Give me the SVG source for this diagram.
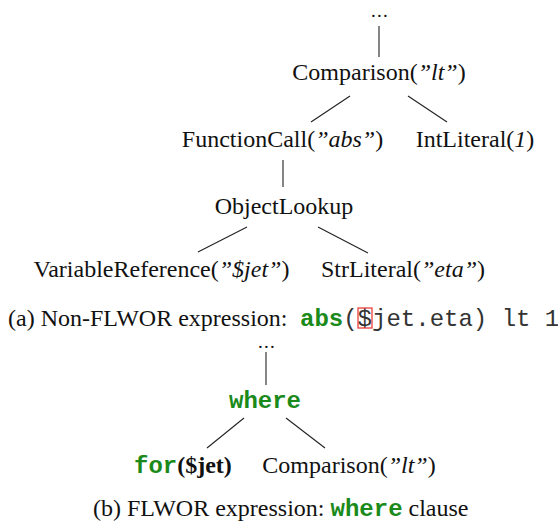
<svg xmlns="http://www.w3.org/2000/svg" width="558" height="527" viewBox="0 0 558 527">
<style>
  .t { font-family: "Liberation Serif", "Times New Roman", serif; font-size: 24px; fill: #111; }
  .dots { font-family: "Liberation Serif", "Times New Roman", serif; font-size: 19px; letter-spacing: 1.2px; fill: #111; }
  .m { font-family: "Liberation Mono", "Courier New", monospace; font-size: 24px; fill: #333; }
  .kw { font-family: "Liberation Mono", "Courier New", monospace; font-weight: bold; fill: #1a8a1a; }
  .i { font-style: italic; }
  .b { font-weight: bold; }
  .edge { stroke: #222; stroke-width: 1.1; fill: none; }
</style>
<rect width="558" height="527" fill="#ffffff"/>

<g id="connectors">
  <line class="edge" x1="379" y1="26" x2="379" y2="57"/>
  <line class="edge" x1="350" y1="96" x2="311" y2="122"/>
  <line class="edge" x1="408" y1="96" x2="447" y2="122"/>
  <line class="edge" x1="283" y1="160" x2="283" y2="187"/>
  <line class="edge" x1="247" y1="227" x2="198" y2="252"/>
  <line class="edge" x1="318" y1="227" x2="368" y2="253"/>
  <line class="edge" x1="266" y1="352" x2="266" y2="385"/>
  <line class="edge" x1="244" y1="418" x2="207" y2="448"/>
  <line class="edge" x1="286" y1="418" x2="325" y2="448"/>
</g>

<g id="a-top"><text class="dots" x="380" y="17" text-anchor="middle">...</text></g>
<g id="a-comparison"><text class="t" x="379" y="80" text-anchor="middle">Comparison(<tspan class="i">”lt”</tspan>)</text></g>
<g id="a-functioncall"><text class="t" x="282.5" y="147" text-anchor="middle">FunctionCall(<tspan class="i">”abs”</tspan>)</text></g>
<g id="a-intliteral"><text class="t" x="475" y="147" text-anchor="middle">IntLiteral(<tspan class="i">1</tspan>)</text></g>
<g id="a-objectlookup"><text class="t" x="284" y="214" text-anchor="middle">ObjectLookup</text></g>
<g id="a-varref"><text class="t" x="161.5" y="277" text-anchor="middle">VariableReference(<tspan class="i">”$jet”</tspan>)</text></g>
<g id="a-strliteral"><text class="t" x="403" y="277" text-anchor="middle">StrLiteral(<tspan class="i">”eta”</tspan>)</text></g>

<g id="caption-a">
  <text class="t" x="8" y="326">(a) Non-FLWOR expression:</text>
  <text class="m" x="300" y="326"><tspan class="kw">abs</tspan>($jet.eta) lt 1</text>
  <rect x="358" y="308" width="14" height="20" fill="none" stroke="#e8302c" stroke-width="1.2"/>
</g>

<g id="b-top"><text class="dots" x="267" y="348" text-anchor="middle">...</text></g>
<g id="b-where"><text class="m kw" x="265" y="408" text-anchor="middle">where</text></g>
<g id="b-for"><text class="t" x="134" y="473"><tspan class="kw">for</tspan><tspan class="b">($jet)</tspan></text></g>
<g id="b-comparison"><text class="t" x="349" y="473" text-anchor="middle">Comparison(<tspan class="i">”lt”</tspan>)</text></g>

<g id="caption-b">
  <text class="t" x="93" y="516">(b) FLWOR expression: <tspan class="kw">where</tspan> clause</text>
</g>
</svg>
